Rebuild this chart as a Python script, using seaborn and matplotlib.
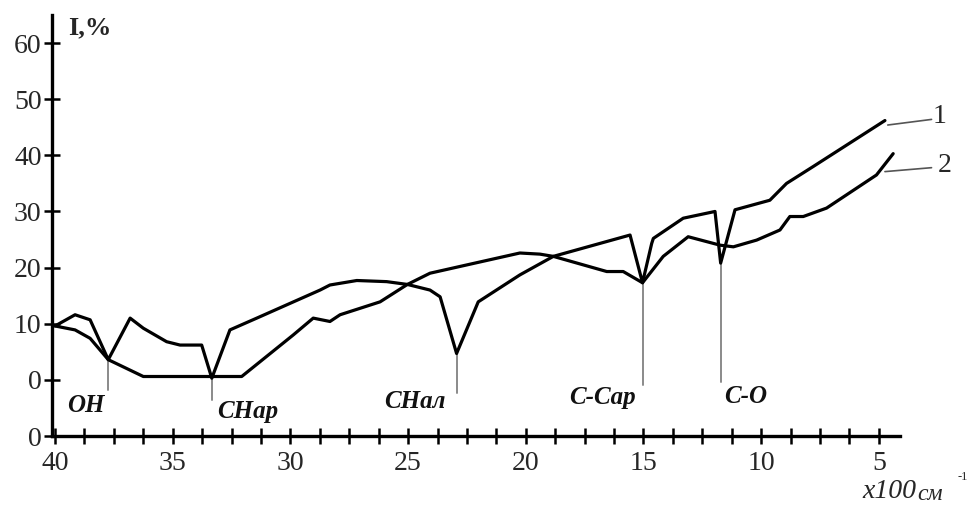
import matplotlib
matplotlib.use("Agg")
import matplotlib.pyplot as plt
import matplotlib.ticker as mticker
import seaborn as sns
import pandas as pd

# ---- data ----
wn1 = [40.0, 39.15, 38.51, 37.74, 36.81, 36.25, 35.26, 34.69, 33.77, 33.34, 32.57, 31.43,
       28.74, 28.32, 27.18, 25.91, 25.03, 24.07, 23.64, 22.94, 22.02, 20.25, 18.83, 15.57,
       15.04, 14.65, 14.58, 13.31, 11.96, 11.72, 11.11, 9.63, 8.92, 7.79, 4.74]
int1 = [9.6, 11.6, 10.7, 3.6, 11.0, 9.2, 6.8, 6.2, 6.2, 0.3, 8.9, 11.0,
        16.0, 16.9, 17.7, 17.5, 17.0, 16.0, 14.8, 4.7, 13.9, 18.7, 22.0, 25.8,
        17.3, 24.3, 25.2, 28.8, 30.0, 20.8, 30.3, 32.0, 35.0, 38.0, 46.2]

wn2 = [40.0, 39.15, 38.51, 37.74, 36.25, 32.07, 29.88, 29.03, 28.32, 27.89, 26.19, 25.03,
       24.07, 22.80, 20.25, 19.40, 18.83, 16.56, 15.86, 15.04, 14.16, 13.10, 11.75, 11.18,
       10.19, 9.20, 8.78, 8.21, 7.22, 5.10, 4.39]
int2 = [9.6, 8.9, 7.4, 3.6, 0.6, 0.6, 8.0, 11.0, 10.4, 11.6, 13.9, 17.0,
        19.0, 20.2, 22.6, 22.4, 22.0, 19.3, 19.3, 17.3, 22.0, 25.5, 24.0, 23.7,
        24.9, 26.7, 29.1, 29.1, 30.6, 36.5, 40.3]

band_names = ["OH", "CHар", "CHал", "C-Cар", "C-O"]
band_x = [37.74, 33.34, 22.94, 15.04, 11.72]
band_top = [3.6, 0.3, 4.7, 17.3, 20.8]

y_ticks = [-10, 0, 10, 20, 30, 40, 50, 60]
y_tick_labels = ["0", "0", "10", "20", "30", "40", "50", "60"]
x_ticks = [40, 35, 30, 25, 20, 15, 10, 5]

# ---- styling ----
sns.set_theme(style="white")
plt.rcParams["font.family"] = ["Liberation Serif", "DejaVu Serif"]

fig = plt.figure(figsize=(9.75, 5.07), dpi=100)
ax = fig.add_axes([52 / 975, 71 / 507, 848 / 975, 421 / 507])

df = pd.concat([
    pd.DataFrame({"wn": wn1, "I": int1, "curve": "1"}),
    pd.DataFrame({"wn": wn2, "I": int2, "curve": "2"}),
])
sns.lineplot(data=df, x="wn", y="I", units="curve", estimator=None, sort=False,
             color="black", linewidth=2.3, ax=ax, legend=False)

# band marker lines
band_bottom = [-1.8, -3.6, -2.4, -0.9, -0.3]
for bx, bt, bb in zip(band_x, band_top, band_bottom):
    ax.plot([bx, bx], [bt, bb], color="#8a8a8a", linewidth=1.4, zorder=1)

label_pos = [(38.7, -4.5), (31.8, -5.7), (24.7, -3.9), (16.76, -3.2), (10.65, -3.0)]
for name, (lx, ly) in zip(band_names, label_pos):
    ax.text(lx, ly, name, ha="center", va="center", fontsize=18,
            fontstyle="italic", fontweight="bold", color="#111111")

# curve labels with leader lines
ax.plot([4.62, 2.76], [45.4, 46.4], color="#555555", linewidth=1.2, clip_on=False)
ax.plot([4.74, 2.76], [37.1, 37.8], color="#555555", linewidth=1.2, clip_on=False)
ax.text(2.4, 46.9, "1", fontsize=20, ha="center", va="center", clip_on=False)
ax.text(2.2, 38.2, "2", fontsize=20, ha="center", va="center", clip_on=False)

# axis text
ax.text(39.45, 62.8, "I,%", fontsize=19, fontweight="bold", ha="left", va="center")
fig.text(862 / 975, 16 / 507, "x100", fontsize=20, fontstyle="italic", ha="left", va="center")
fig.text(917 / 975, 12 / 507, "см", fontsize=17, fontstyle="italic", ha="left", va="center")
fig.text(958 / 975, 30 / 507, "-1", fontsize=9, ha="left", va="center")

ax.set_xlim(40.13, 4.1)
ax.set_ylim(-10, 65)
ax.set_xlabel("")
ax.set_ylabel("")

ax.set_yticks(y_ticks)
ax.set_yticklabels(y_tick_labels)
ax.set_xticks(x_ticks)
ax.set_xticklabels([str(t) for t in x_ticks])
ax.xaxis.set_minor_locator(mticker.MultipleLocator(1.25))

for s in ["top", "right"]:
    ax.spines[s].set_visible(False)
for s in ["left", "bottom"]:
    ax.spines[s].set_visible(True)
    ax.spines[s].set_color("black")
    ax.spines[s].set_linewidth(2.4)

ax.tick_params(axis="y", which="major", direction="inout", length=11, width=1.8,
               labelsize=20, pad=2, color="black", left=True)
ax.tick_params(axis="x", which="both", direction="inout", length=11, width=1.8,
               labelsize=20, pad=5, color="black", bottom=True)
ax.grid(False)

fig.savefig("out.png", dpi=100)
